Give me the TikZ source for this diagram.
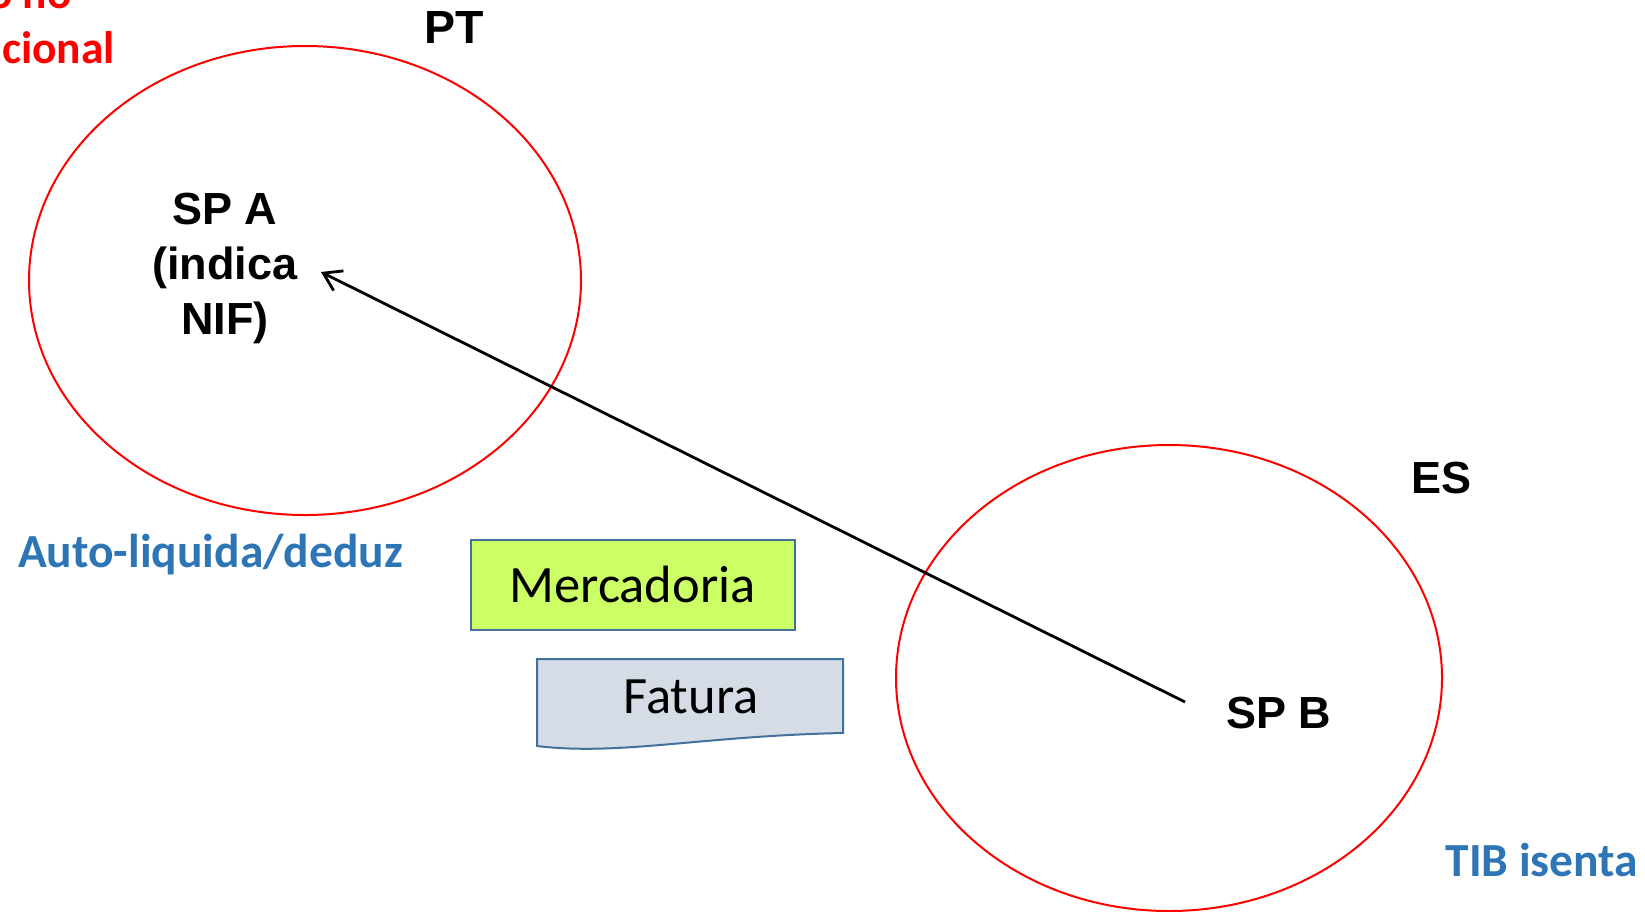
\documentclass[tikz,border=0pt]{standalone}
\usepackage{fontspec}
\newfontfamily\arialfont{Liberation Sans}
\newfontfamily\califont{Carlito}
\usetikzlibrary{arrows.meta,shapes.geometric}
\definecolor{pptred}{RGB}{255,0,0}
\definecolor{pptblue}{RGB}{46,117,182}
\definecolor{boxborder}{RGB}{65,113,156}
\definecolor{limefill}{RGB}{204,255,102}
\definecolor{docfill}{RGB}{214,220,229}
\begin{document}
\begin{tikzpicture}[x=1pt,y=-1pt,
  country/.style={draw=pptred,line width=2pt,ellipse,inner sep=0pt},
  boldlabel/.style={font=\arialfont\bfseries\fontsize{45}{55}\selectfont,inner sep=0pt,anchor=base},
  bluelabel/.style={font=\califont\bfseries\fontsize{47.5}{55}\selectfont,text=pptblue,inner sep=0pt,anchor=base},
  redlabel/.style={font=\califont\bfseries\fontsize{45.5}{55}\selectfont,text=pptred,inner sep=0pt,anchor=base east},
  boxlabel/.style={font=\califont\fontsize{52.5}{60}\selectfont,inner sep=0pt,anchor=base},
  flowarrow/.style={line width=2.8pt,-{Straight Barb[length=17pt,width=22pt]}}
]
\useasboundingbox (0,0) rectangle (1645,911);
\clip (0,0) rectangle (1645,911);
\fill[white] (0,0) rectangle (1645,911);

% countries
\node[country,minimum width=552pt,minimum height=469pt] (ptzone) at (305,280.5) {};
\node[country,minimum width=546pt,minimum height=466pt] (eszone) at (1169,678) {};

\node[boldlabel,font=\arialfont\bfseries\fontsize{46.5}{55}\selectfont] (ptlabel) at (454.5,43) {PT};
\node[boldlabel] (eslabel) at (1441,493) {ES};

% partially visible red text
\node[redlabel] (redtop) at (72,8) {o no};
\node[redlabel] (redbottom) at (115,63) {cional};

% subjects
\node[boldlabel,align=center] (spa) at (225,334) {SP A\\(indica\\NIF)};
\node[boldlabel] (spb) at (1278.5,728) {SP B};

% blue notes
\node[bluelabel] (autoliq) at (210.5,567) {Auto-liquida/deduz};
\node[bluelabel] (tib) at (1542,876) {TIB isenta};

% goods box
\node[draw=boxborder,line width=2pt,fill=limefill,minimum width=324pt,minimum height=90pt,inner sep=0pt] (mercbox) at (633,585) {};
\node[boxlabel] (merc) at (632.5,602) {Mercadoria};

% invoice document shape
\draw[draw=boxborder,line width=2pt,fill=docfill] (537,659) -- (843,659) -- (843,733)
  .. controls (700,736) and (620,756) .. (537,746) -- cycle;
\node[boxlabel] (fatura) at (691,713) {Fatura};

% flow arrow
\coordinate (arrowstart) at (1185,702);
\coordinate (arrowend) at (321,272);
\draw[flowarrow] (arrowstart) -- (arrowend);
\end{tikzpicture}
\end{document}
